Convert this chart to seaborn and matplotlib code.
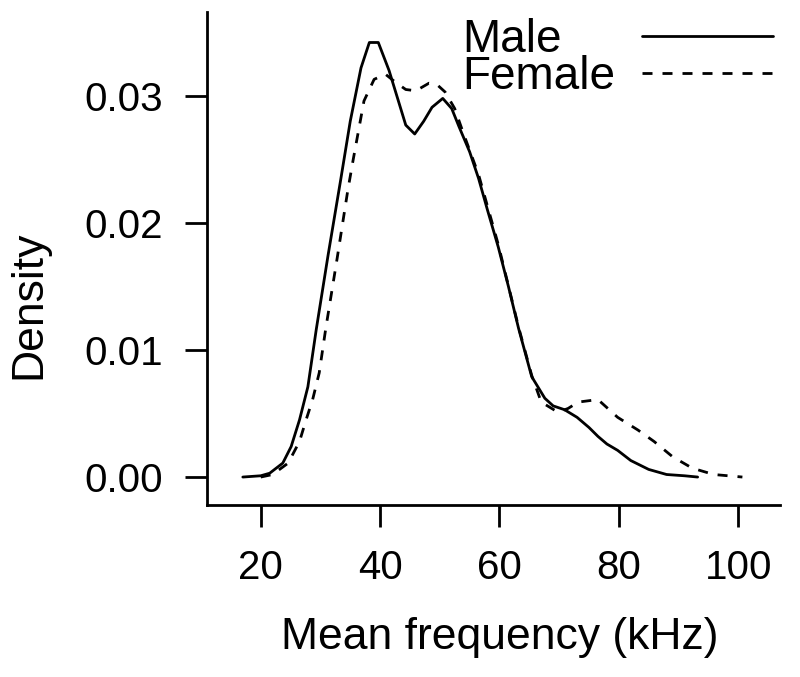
import numpy as np
import pandas as pd
import matplotlib
matplotlib.use("Agg")
import matplotlib.pyplot as plt
import seaborn as sns

# стиль
sns.set_style("ticks")
plt.rcParams['font.family'] = ['Liberation Sans', 'DejaVu Sans']
plt.rcParams['text.color'] = 'black'
plt.rcParams['axes.labelcolor'] = 'black'

# данные
male_freq = [17.0, 20.0, 21.5, 23.7, 25.1, 26.5, 27.9, 29.3, 31.3, 33.4, 35.0, 36.8,
             38.2, 39.7, 41.5, 43.0, 44.3, 45.8, 47.3, 48.7, 50.5, 52.0, 53.2, 55.0,
             56.5, 58.0, 59.8, 61.5, 63.2, 65.4, 67.6, 69.0, 70.9, 73.0, 75.0, 76.5,
             78.0, 79.8, 82.0, 85.0, 88.0, 91.0, 93.2]
male_density = [0.0000, 0.0001, 0.0003, 0.0011, 0.0024, 0.0045, 0.0071, 0.0116, 0.0175,
                0.0234, 0.0280, 0.0322, 0.0342, 0.0342, 0.0320, 0.0297, 0.0277, 0.0270,
                0.0280, 0.0291, 0.0298, 0.0290, 0.0276, 0.0256, 0.0235, 0.0210, 0.0181,
                0.0150, 0.0117, 0.0079, 0.0062, 0.0056, 0.0053, 0.0047, 0.0039, 0.0032,
                0.0026, 0.0021, 0.0013, 0.0006, 0.0002, 0.0001, 0.0000]

female_freq = [20.0, 22.0, 24.6, 26.5, 27.6, 28.7, 29.8, 30.9, 32.8, 34.6, 35.5, 37.3,
               39.0, 40.9, 42.5, 44.3, 46.0, 48.2, 49.5, 50.9, 52.5, 54.0, 56.5, 59.8,
               63.2, 65.4, 67.0, 69.8, 71.5, 73.2, 76.5, 79.8, 83.2, 85.9, 89.0, 92.3,
               95.9, 100.7]
female_density = [0.0000, 0.0002, 0.0011, 0.0028, 0.0045, 0.0061, 0.0082, 0.0117, 0.0172,
                  0.0226, 0.0250, 0.0296, 0.0313, 0.0317, 0.0311, 0.0305, 0.0304, 0.0310,
                  0.0309, 0.0303, 0.0290, 0.0270, 0.0238, 0.0183, 0.0118, 0.0080, 0.0059,
                  0.0051, 0.0054, 0.0059, 0.0061, 0.0047, 0.0037, 0.0028, 0.0016, 0.0007,
                  0.0002, 0.0000]

x_ticks = [20, 40, 60, 80, 100]
y_ticks = [0.00, 0.01, 0.02, 0.03]
y_tick_labels = ["0.00", "0.01", "0.02", "0.03"]

fig = plt.figure(figsize=(8, 6.77), dpi=100)
ax = fig.add_axes([207 / 800, 1 - 505 / 677, (780 - 207) / 800, (505 - 12) / 677])

sns.lineplot(x=male_freq, y=male_density, color='black', lw=2, label='Male',
             estimator=None, sort=False, ax=ax)
sns.lineplot(x=female_freq, y=female_density, color='black', lw=2, label='Female',
             estimator=None, sort=False, ax=ax)
ax.lines[1].set_dashes((3.6, 3.6))

ax.set_xlim(11, 107)
ax.set_ylim(-0.0022, 0.0366)
ax.set_xticks(x_ticks)
ax.set_xticklabels([str(t) for t in x_ticks])
ax.set_yticks(y_ticks)
ax.set_yticklabels(y_tick_labels)

for side in ['top', 'right']:
    ax.spines[side].set_visible(False)
for side in ['left', 'bottom']:
    ax.spines[side].set_linewidth(2)
    ax.spines[side].set_color('black')

ax.tick_params(axis='both', length=16, width=2, colors='black', labelsize=29, pad=16)

ax.set_xlabel("Mean frequency (kHz)", fontsize=32)
ax.set_ylabel("Density", fontsize=32)
ax.xaxis.set_label_coords(0.511, -0.228)
ax.yaxis.set_label_coords(-0.275, 0.406)

handles, labels = ax.get_legend_handles_labels()
leg = ax.legend(handles, labels, loc='upper right', bbox_to_anchor=(773 / 800, 1 - 18 / 677),
                bbox_transform=fig.transFigure, frameon=False, markerfirst=False,
                fontsize=33, handlelength=2.85, handletextpad=0.6, labelspacing=-0.15,
                borderpad=0, borderaxespad=0)

# текст легенды выравниваем по левому краю
fig.canvas.draw()
rend = fig.canvas.get_renderer()
widths = [t.get_window_extent(rend).width for t in leg.get_texts()]
items = leg._legend_handle_box.get_children()[0].get_children()
for item, w in zip(items, widths):
    item.sep += (max(widths) - w) * 72 / fig.dpi

plt.savefig("out.png", dpi=100)
